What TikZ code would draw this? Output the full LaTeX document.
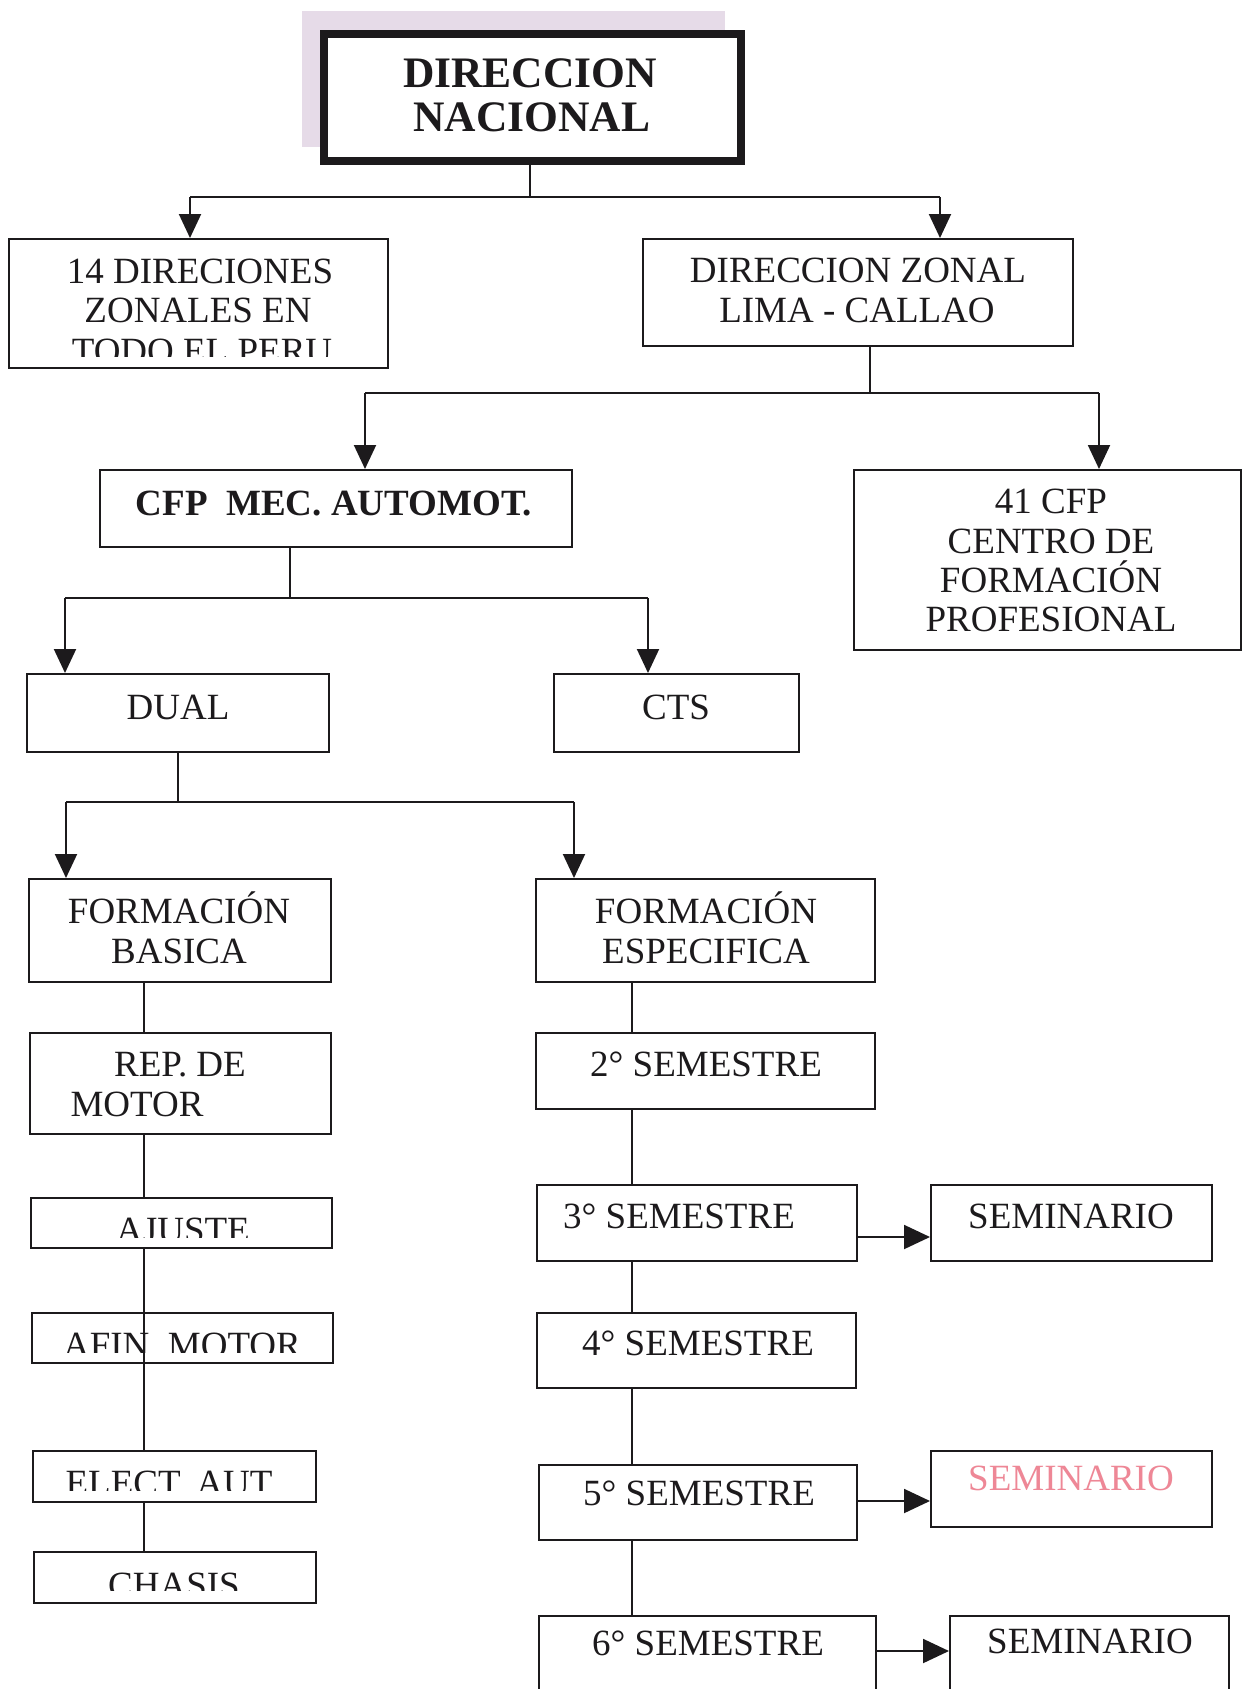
\documentclass[tikz,border=0pt]{standalone}
\usepackage{fontspec}
\setmainfont{Liberation Serif}
\usetikzlibrary{fit,arrows.meta}
\definecolor{ink}{RGB}{28,26,28}
\definecolor{shadowcol}{RGB}{230,219,232}
\definecolor{pinktext}{RGB}{238,135,150}
\tikzset{
  box/.style={draw=ink, line width=2pt, inner sep=0pt, fill=white},
  txt/.style={anchor=base, inner sep=0pt, text=ink, font=\fontsize{37}{40}\selectfont},
  btxt/.style={txt, font=\fontsize{37}{40}\selectfont\bfseries},
  dntxt/.style={txt, font=\fontsize{43.5}{48}\selectfont\bfseries},
  conn/.style={draw=ink, line width=2pt},
  arr/.style={conn, -{Triangle[length=24pt,width=22pt]}},
  harr/.style={conn, -{Triangle[length=26pt,width=24pt]}}
}
\begin{document}
\begin{tikzpicture}[x=1pt,y=-1pt]
\path[use as bounding box] (0,0) rectangle (1243,1689);
\clip (0,0) rectangle (1243,1689);

% pale backdrop behind top box
\fill[shadowcol] (302,11) rectangle (725,147);

% boxes
\node[box, line width=8pt, fit={(324,34) (741,161)}] (dn) {};
\node[box, fit={(9,239) (388,368)}] (nz) {};
\node[box, fit={(643,239) (1073,346)}] (dz) {};
\node[box, fit={(100,470) (572,547)}] (cfp) {};
\node[box, fit={(854,470) (1241,650)}] (c41) {};
\node[box, fit={(27,674) (329,752)}] (dual) {};
\node[box, fit={(554,674) (799,752)}] (cts) {};
\node[box, fit={(29,879) (331,982)}] (fb) {};
\node[box, fit={(536,879) (875,982)}] (fe) {};
\node[box, fit={(30,1033) (331,1134)}] (rm) {};
\node[box, fit={(31,1198) (332,1248)}] (aj) {};
\node[box, fit={(32,1313) (333,1363)}] (af) {};
\node[box, fit={(33,1451) (316,1502)}] (el) {};
\node[box, fit={(34,1552) (316,1603)}] (ch) {};
\node[box, fit={(536,1033) (875,1109)}] (s2) {};
\node[box, fit={(537,1185) (857,1261)}] (s3) {};
\node[box, fit={(931,1185) (1212,1261)}] (sm1) {};
\node[box, fit={(537,1313) (856,1388)}] (s4) {};
\node[box, fit={(539,1465) (857,1540)}] (s5) {};
\node[box, fit={(931,1451) (1212,1527)}] (sm2) {};
\node[box, fit={(539,1616) (876,1710)}] (s6) {};
\node[box, fit={(950,1616) (1229,1710)}] (sm3) {};

% texts
\node[dntxt] (dnt1) at (530,87) {DIRECCION};
\node[dntxt] (dnt2) at (532,131) {NACIONAL};

\node[txt] (nzt1) at (200,283) {14 DIRECIONES};
\node[txt] (nzt2) at (198,322) {ZONALES EN};
\begin{scope}
  \clip (12,240) rectangle (385,356);
  \node[txt] (nzt3) at (202,363) {TODO EL PERU};
\end{scope}

\node[txt] (dzt1) at (858,282) {DIRECCION ZONAL};
\node[txt] (dzt2) at (857,322) {LIMA - CALLAO};

\node[btxt] (cfpt) at (334,515) {CFP~~MEC. AUTOMOT.};

\node[txt] (c41t1) at (1051,513) {41 CFP};
\node[txt] (c41t2) at (1051,553) {CENTRO DE};
\node[txt] (c41t3) at (1051,592) {FORMACIÓN};
\node[txt] (c41t4) at (1051,631) {PROFESIONAL};

\node[txt] (dualt) at (178,719) {DUAL};
\node[txt] (ctst) at (676,719) {CTS};

\node[txt] (fbt1) at (179,923) {FORMACIÓN};
\node[txt] (fbt2) at (179,963) {BASICA};
\node[txt] (fet1) at (706,923) {FORMACIÓN};
\node[txt] (fet2) at (706,963) {ESPECIFICA};

\node[txt] (rmt1) at (180,1076) {REP. DE};
\node[txt] (rmt2) at (137,1116) {MOTOR};

\begin{scope}
  \clip (34,1200) rectangle (330,1237);
  \node[txt] (ajt) at (183,1242) {AJUSTE};
\end{scope}
\begin{scope}
  \clip (34,1315) rectangle (331,1352);
  \node[txt] (aft) at (182,1357) {AFIN. MOTOR};
\end{scope}
\begin{scope}
  \clip (35,1453) rectangle (314,1490);
  \node[txt] (elt) at (169,1495) {ELECT. AUT};
\end{scope}
\begin{scope}
  \clip (36,1554) rectangle (314,1590);
  \node[txt] (cht) at (174,1597) {CHASIS};
\end{scope}

\node[txt] (s2t) at (706,1076) {2° SEMESTRE};
\node[txt] (s3t) at (679,1228) {3° SEMESTRE};
\node[txt] (sm1t) at (1071,1228) {SEMINARIO};
\node[txt] (s4t) at (698,1355) {4° SEMESTRE};
\node[txt] (s5t) at (699,1505) {5° SEMESTRE};
\node[txt, text=pinktext] (sm2t) at (1071,1490) {SEMINARIO};
\node[txt] (s6t) at (708,1655) {6° SEMESTRE};
\node[txt] (sm3t) at (1090,1653) {SEMINARIO};

% connectors: top level
\coordinate (j1) at (530,197);
\coordinate (a1) at (190,197);
\coordinate (a2) at (940,197);
\draw[conn] (j1 |- dn.south) -- (j1);
\draw[conn] (a1) -- (a2);
\draw[arr] (a1) -- (a1 |- nz.north);
\draw[arr] (a2) -- (a2 |- dz.north);

% zonal
\coordinate (j2) at (870,393);
\coordinate (a3) at (365,393);
\coordinate (a4) at (1099,393);
\draw[conn] (j2 |- dz.south) -- (j2);
\draw[conn] (a3) -- (a4);
\draw[arr] (a3) -- (a3 |- cfp.north);
\draw[arr] (a4) -- (a4 |- c41.north);

% cfp
\coordinate (j3) at (290,598);
\coordinate (a5) at (65,598);
\coordinate (a6) at (648,598);
\draw[conn] (j3 |- cfp.south) -- (j3);
\draw[conn] (a5) -- (a6);
\draw[arr] (a5) -- (a5 |- dual.north);
\draw[arr] (a6) -- (a6 |- cts.north);

% dual
\coordinate (j4) at (178,802);
\coordinate (a7) at (66,802);
\coordinate (a8) at (574,802);
\draw[conn] (j4 |- dual.south) -- (j4);
\draw[conn] (a7) -- (a8);
\draw[arr] (a7) -- (a7 |- fb.north);
\draw[arr] (a8) -- (a8 |- fe.north);

% left chain
\coordinate (lx) at (144,0);
\draw[conn] (lx |- fb.south) -- (lx |- rm.north);
\draw[conn] (lx |- rm.south) -- (lx |- aj.north);
\draw[conn] (lx |- aj.south) -- (lx |- el.north);
\draw[conn] (lx |- el.south) -- (lx |- ch.north);

% right chain
\coordinate (rx) at (632,0);
\draw[conn] (rx |- fe.south) -- (rx |- s2.north);
\draw[conn] (rx |- s2.south) -- (rx |- s3.north);
\draw[conn] (rx |- s3.south) -- (rx |- s4.north);
\draw[conn] (rx |- s4.south) -- (rx |- s5.north);
\draw[conn] (rx |- s5.south) -- (rx |- s6.north);

% seminar arrows
\coordinate (h1) at (0,1237);
\coordinate (h2) at (0,1501);
\coordinate (h3) at (0,1651);
\draw[harr] (s3.east |- h1) -- (sm1.west |- h1);
\draw[harr] (s5.east |- h2) -- (sm2.west |- h2);
\draw[harr] (s6.east |- h3) -- (sm3.west |- h3);
\end{tikzpicture}
\end{document}
